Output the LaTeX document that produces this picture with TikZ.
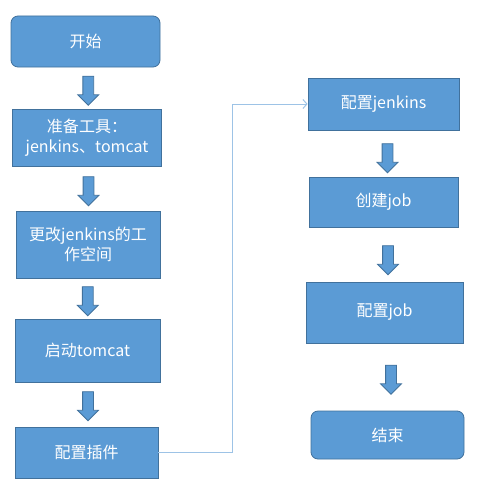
\documentclass[tikz,border=0pt]{standalone}
\usepackage{fontspec}
\setmainfont{Noto Sans CJK SC}
\usetikzlibrary{positioning, calc, shapes.arrows, arrows.meta}
\definecolor{boxfill}{HTML}{5B9BD5}
\definecolor{boxline}{HTML}{41719C}
\definecolor{linkline}{HTML}{9DC3E6}
\tikzstyle{Box} = [draw=boxline, fill=boxfill, line width=0.8pt, text=white,
font=\fontsize{16}{20}\selectfont, align=center, inner sep=0pt]
\tikzstyle{Round} = [Box, rounded corners=7pt]
\tikzstyle{Down} = [single arrow, draw=boxline, fill=boxfill, line width=0.8pt,
minimum height=29pt, single arrow head extend=5pt,
inner sep=5pt, shape border rotate=270]
\tikzstyle{Link} = [draw=linkline, line width=1pt,
-{Straight Barb[length=4pt,width=9pt]}]

\begin{document}
\begin{tikzpicture}[x=1pt, y=-1pt]
    \useasboundingbox (0,0) rectangle (489,487);
    \node [Round, minimum width=149pt, minimum height=51pt] (start) at (85.5,41.5) {开始};
    \node [Box, minimum width=149pt, minimum height=57pt] (tools) at (87,137.5) {准备工具：\\jenkins、tomcat};
    \node [Box, minimum width=144pt, minimum height=67pt] (space) at (88,244.5) {更改jenkins的工\\作空间};
    \node [Box, minimum width=145pt, minimum height=63pt] (tomcat) at (87.5,350.5) {启动tomcat};
    \node [Box, minimum width=143pt, minimum height=51pt] (plugin) at (86.5,452.5) {配置插件};
    \node [Box, minimum width=151pt, minimum height=52pt] (jenkins) at (383.5,104) {配置jenkins};
    \node [Box, minimum width=149pt, minimum height=50pt] (newjob) at (383.5,202) {创建job};
    \node [Box, minimum width=157pt, minimum height=61pt] (setjob) at (384.5,312.5) {配置job};
    \node [Round, minimum width=153pt, minimum height=48pt] (end) at (387.5,435) {结束};
    \node [Down, xshift=2pt] (a1) at ($(start.south)!0.5!(tools.north)$) {};
    \node [Down, xshift=1pt] (a2) at ($(tools.south)!0.5!(space.north)$) {};
    \node [Down, xshift=0pt] (a3) at ($(space.south)!0.5!(tomcat.north)$) {};
    \node [Down, xshift=1pt, yshift=1pt] (a4) at ($(tomcat.south)!0.5!(plugin.north)$) {};
    \node [Down, xshift=4pt, yshift=-2pt] (a5) at ($(jenkins.south)!0.5!(newjob.north)$) {};
    \node [Down, xshift=4pt, yshift=-3pt] (a6) at ($(newjob.south)!0.5!(setjob.north)$) {};
    \node [Down, xshift=5pt] (a7) at ($(setjob.south)!0.5!(end.north)$) {};
    \draw[Link] (plugin.east) -- ++(74,0) |- (jenkins.west);
\end{tikzpicture}
\end{document}
